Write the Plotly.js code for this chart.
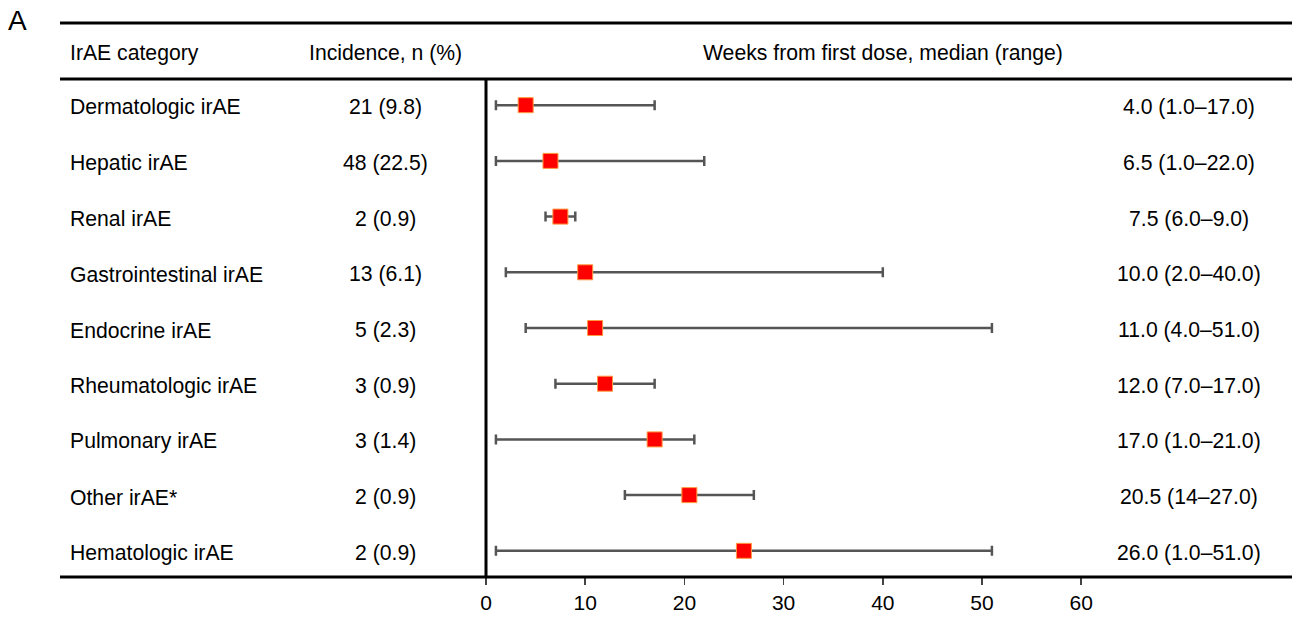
<!DOCTYPE html>
<html><head><meta charset="utf-8">
<script src="https://cdn.plot.ly/plotly-3.0.1.min.js"></script>
<style>html,body{margin:0;padding:0;background:#fff}#chart{width:1292px;height:622px}</style>
</head><body><div id="chart"></div>
<script>
const categories = ["Dermatologic irAE","Hepatic irAE","Renal irAE","Gastrointestinal irAE","Endocrine irAE","Rheumatologic irAE","Pulmonary irAE","Other irAE*","Hematologic irAE"];
const incidence = ["21 (9.8)","48 (22.5)","2 (0.9)","13 (6.1)","5 (2.3)","3 (0.9)","3 (1.4)","2 (0.9)","2 (0.9)"];
const medianWeeks = [4.0, 6.5, 7.5, 10.0, 11.0, 12.0, 17.0, 20.5, 26.0];
const minWeeks = [1.0, 1.0, 6.0, 2.0, 4.0, 7.0, 1.0, 14.0, 1.0];
const maxWeeks = [17.0, 22.0, 9.0, 40.0, 51.0, 17.0, 21.0, 27.0, 51.0];
const rangeLabels = ["4.0 (1.0\u201317.0)","6.5 (1.0\u201322.0)","7.5 (6.0\u20139.0)","10.0 (2.0\u201340.0)","11.0 (4.0\u201351.0)","12.0 (7.0\u201317.0)","17.0 (1.0\u201321.0)","20.5 (14\u201327.0)","26.0 (1.0\u201351.0)"];
const xTicks = [0,10,20,30,40,50,60];
const headers = ["IrAE category","Incidence, n (%)","Weeks from first dose, median (range)"];

const W=1292,H=622,ML=60,MR=0,MT=79,MB=45;
const pw=W-ML-MR, ph=H-MT-MB;
const px=x=>(x-ML)/pw;            // pixel -> paper x
const py=y=>(H-MB-y)/ph;          // pixel -> paper y
const zeroPx=486, per10=99.2;
const xr=[(ML-zeroPx)/per10*10,(W-MR-zeroPx)/per10*10];
const rows=categories.map((_,i)=>i);
const FONT="Liberation Sans, Arial, Helvetica, sans-serif";

const trace={
  type:'scatter',mode:'markers',
  x:medianWeeks,y:rows,
  marker:{symbol:'square',size:15,color:'#ff0000',line:{color:'#ff9a40',width:1}},
  error_x:{type:'data',symmetric:false,
    array:medianWeeks.map((m,i)=>maxWeeks[i]-m),
    arrayminus:medianWeeks.map((m,i)=>m-minWeeks[i]),
    color:'#555555',thickness:2.5,width:5},
  hoverinfo:'skip'
};

const ann=[];
const fs=21.2, ys=-2;
categories.forEach((c,i)=>{
  ann.push({xref:'paper',yref:'y',x:px(68),y:i,yshift:ys,xanchor:'left',yanchor:'middle',text:c,showarrow:false,font:{family:FONT,size:fs,color:'#000'}});
  ann.push({xref:'paper',yref:'y',x:px(385),y:i,yshift:ys,xanchor:'center',yanchor:'middle',text:incidence[i],showarrow:false,font:{family:FONT,size:fs,color:'#000'}});
  ann.push({xref:'paper',yref:'y',x:px(1189),y:i,yshift:ys,xanchor:'center',yanchor:'middle',text:rangeLabels[i],showarrow:false,font:{family:FONT,size:fs,color:'#000'}});
});
ann.push({xref:'paper',yref:'paper',x:px(68),y:py(53),xanchor:'left',yanchor:'middle',text:headers[0],showarrow:false,font:{family:FONT,size:fs,color:'#000'}});
ann.push({xref:'paper',yref:'paper',x:px(385),y:py(53),xanchor:'center',yanchor:'middle',text:headers[1],showarrow:false,font:{family:FONT,size:fs,color:'#000'}});
ann.push({xref:'paper',yref:'paper',x:px(883),y:py(53),xanchor:'center',yanchor:'middle',text:headers[2],showarrow:false,font:{family:FONT,size:fs,color:'#000'}});
ann.push({xref:'paper',yref:'paper',x:px(6),y:py(20),xanchor:'left',yanchor:'middle',text:'A',showarrow:false,font:{family:FONT,size:28,color:'#000'}});

const shapes=[
  {type:'line',xref:'paper',yref:'paper',x0:0,x1:1,y0:py(23),y1:py(23),line:{color:'#000',width:3}},
  {type:'line',xref:'paper',yref:'paper',x0:0,x1:1,y0:1,y1:1,line:{color:'#000',width:3}},
  {type:'line',xref:'paper',yref:'paper',x0:0,x1:1,y0:0,y1:0,line:{color:'#000',width:3}},
  {type:'line',xref:'x',yref:'paper',x0:0,x1:0,y0:0,y1:1,line:{color:'#000',width:3}}
];

const layout={
  width:W,height:H,margin:{l:ML,r:MR,t:MT,b:MB,pad:0},
  paper_bgcolor:'#fff',plot_bgcolor:'#fff',showlegend:false,
  xaxis:{range:xr,tickmode:'array',tickvals:xTicks,ticktext:xTicks.map(String),
    showgrid:false,zeroline:false,showline:false,ticks:'outside',ticklen:7,tickwidth:1.5,tickcolor:'#444',
    tickfont:{family:FONT,size:21,color:'#000'},fixedrange:true},
  yaxis:{range:[8.47,-0.47],showgrid:false,zeroline:false,showline:false,showticklabels:false,ticks:'',fixedrange:true},
  annotations:ann,shapes:shapes
};
Plotly.newPlot('chart',[trace],layout,{displayModeBar:false,staticPlot:true});
</script></body></html>
